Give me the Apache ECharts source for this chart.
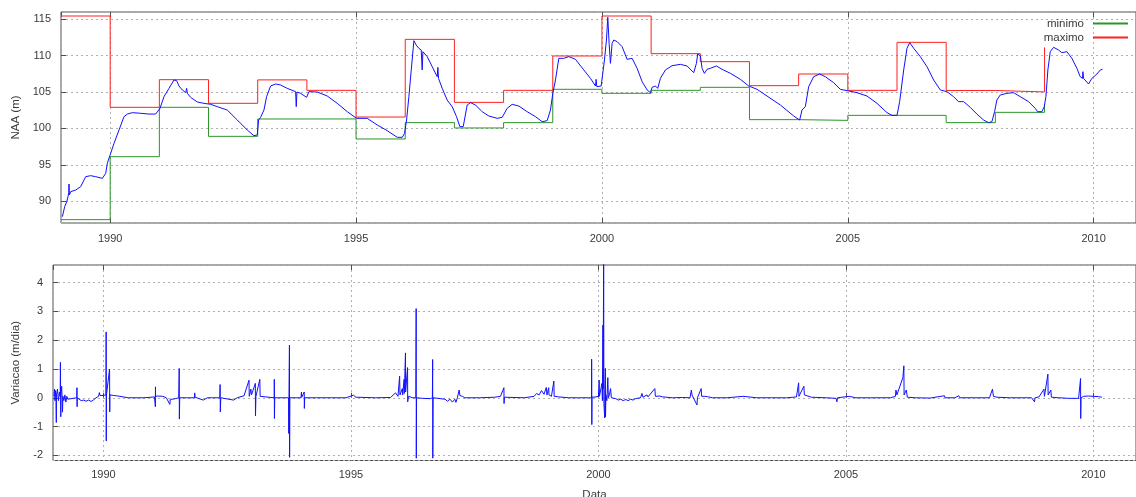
<!DOCTYPE html>
<html>
<head>
<meta charset="utf-8">
<script src="https://cdn.jsdelivr.net/npm/echarts@6/dist/echarts.min.js"></script>
<style>
  html, body { margin: 0; padding: 0; background: #ffffff; }
  #chart { width: 1136px; height: 497px; }
</style>
</head>
<body>
<div id="chart"></div>
<script>
// Nível da água (m) ao longo do tempo: [ano decimal, NAA]
const nivelAgua = [
  [1989.028, 87.90], [1989.075, 89.27], [1989.116, 89.95], [1989.143, 90.64], [1989.157, 91.19],
  [1989.163, 92.38], [1989.170, 90.87], [1989.197, 91.33], [1989.299, 91.55], [1989.400, 92.01],
  [1989.502, 93.38], [1989.604, 93.52], [1989.705, 93.38], [1989.841, 93.15], [1989.909, 93.84],
  [1989.942, 95.21], [1990.010, 96.58], [1990.078, 97.95], [1990.180, 99.78], [1990.281, 101.61],
  [1990.349, 101.97], [1990.451, 102.16], [1990.620, 102.07], [1990.789, 101.97], [1990.925, 101.97],
  [1991.013, 102.75], [1991.094, 104.35], [1991.196, 105.49], [1991.298, 106.64], [1991.352, 106.54],
  [1991.399, 105.81], [1991.467, 105.27], [1991.535, 104.90], [1991.555, 105.49], [1991.569, 104.81],
  [1991.636, 104.26], [1991.772, 103.62], [1991.907, 103.44], [1992.043, 103.30], [1992.178, 102.98],
  [1992.381, 102.52], [1992.585, 101.15], [1992.788, 99.78], [1992.923, 99.00], [1992.991, 99.10],
  [1993.018, 101.15], [1993.059, 101.52], [1993.127, 102.52], [1993.181, 104.35], [1993.262, 105.81],
  [1993.364, 106.09], [1993.466, 105.95], [1993.601, 105.49], [1993.771, 105.04], [1993.784, 102.98],
  [1993.798, 104.99], [1993.872, 104.81], [1993.994, 104.26], [1994.041, 105.04], [1994.211, 104.99],
  [1994.414, 104.44], [1994.617, 103.44], [1994.821, 102.29], [1995.010, 101.38], [1995.024, 101.52],
  [1995.227, 101.38], [1995.431, 100.47], [1995.634, 99.69], [1995.837, 98.78], [1995.939, 98.78],
  [1995.986, 99.32], [1996.027, 101.15], [1996.074, 104.35], [1996.122, 108.01], [1996.176, 112.03],
  [1996.223, 111.43], [1996.278, 110.98], [1996.325, 110.75], [1996.345, 108.01], [1996.359, 110.52],
  [1996.447, 109.84], [1996.549, 108.46], [1996.650, 107.09], [1996.664, 108.37], [1996.677, 106.86],
  [1996.752, 105.49], [1996.853, 103.89], [1996.955, 102.98], [1997.043, 101.61], [1997.111, 100.24],
  [1997.179, 100.24], [1997.260, 103.21], [1997.328, 103.53], [1997.429, 103.21], [1997.564, 102.29],
  [1997.700, 101.70], [1997.869, 101.38], [1997.971, 101.52], [1998.073, 102.75], [1998.174, 103.30],
  [1998.310, 103.07], [1998.479, 102.29], [1998.649, 101.61], [1998.784, 100.92], [1998.886, 101.06],
  [1998.953, 102.52], [1999.001, 104.81], [1999.055, 106.64], [1999.123, 109.61], [1999.224, 109.61],
  [1999.326, 109.84], [1999.462, 109.47], [1999.631, 108.01], [1999.767, 106.86], [1999.869, 105.81],
  [1999.882, 106.73], [1999.896, 105.72], [1999.936, 105.63], [1999.984, 105.81], [2000.051, 109.38],
  [2000.092, 112.12], [2000.119, 115.23], [2000.146, 111.66], [2000.173, 108.92], [2000.207, 111.66],
  [2000.241, 112.12], [2000.309, 111.89], [2000.410, 111.21], [2000.512, 109.47], [2000.614, 109.61],
  [2000.715, 108.24], [2000.817, 106.41], [2000.919, 105.27], [2000.986, 104.90], [2001.020, 105.63],
  [2001.088, 105.81], [2001.135, 105.49], [2001.189, 106.86], [2001.291, 108.01], [2001.426, 108.60],
  [2001.596, 108.78], [2001.731, 108.56], [2001.866, 107.64], [2001.921, 108.92], [2001.948, 110.20],
  [2002.002, 109.93], [2002.036, 108.24], [2002.083, 107.55], [2002.137, 108.10], [2002.205, 108.24],
  [2002.327, 108.56], [2002.442, 108.10], [2002.612, 107.55], [2002.815, 106.73], [2002.985, 105.81],
  [2003.154, 105.36], [2003.357, 104.44], [2003.628, 103.21], [2003.899, 101.70], [2004.021, 101.15],
  [2004.068, 102.52], [2004.136, 102.98], [2004.204, 105.72], [2004.305, 107.09], [2004.427, 107.46],
  [2004.542, 107.09], [2004.712, 106.27], [2004.847, 105.36], [2005.017, 105.13], [2005.187, 104.90],
  [2005.390, 104.44], [2005.593, 103.44], [2005.796, 102.16], [2005.898, 101.79], [2006.000, 101.79],
  [2006.054, 103.67], [2006.136, 108.01], [2006.203, 110.98], [2006.258, 111.76], [2006.339, 110.98],
  [2006.474, 109.84], [2006.610, 108.46], [2006.745, 106.64], [2006.881, 105.27], [2006.914, 105.36],
  [2007.015, 105.04], [2007.150, 104.35], [2007.252, 103.67], [2007.354, 103.67], [2007.489, 102.89],
  [2007.625, 101.97], [2007.760, 101.15], [2007.862, 100.79], [2007.930, 100.92], [2007.984, 102.29],
  [2008.031, 103.89], [2008.099, 104.58], [2008.235, 104.81], [2008.370, 104.90], [2008.506, 104.35],
  [2008.675, 103.67], [2008.811, 102.75], [2008.858, 102.29], [2008.946, 102.29], [2008.994, 102.98],
  [2009.028, 104.35], [2009.068, 108.01], [2009.116, 110.52], [2009.184, 111.12], [2009.285, 110.75],
  [2009.353, 110.38], [2009.455, 110.52], [2009.556, 109.61], [2009.658, 108.24], [2009.726, 107.09],
  [2009.773, 106.86], [2009.780, 107.78], [2009.794, 106.86], [2009.827, 106.64], [2009.895, 106.09],
  [2009.963, 106.86], [2010.065, 107.46], [2010.133, 108.01], [2010.180, 108.10]
];

// Mínimo e máximo anuais (início de cada ano)
const anos = [1989, 1990, 1991, 1992, 1993, 1994, 1995, 1996, 1997, 1998, 1999,
              2000, 2001, 2002, 2003, 2004, 2005, 2006, 2007, 2008, 2009];
const minimo = [87.49, 96.12, 102.89, 98.91, 101.29, 101.30, 98.55, 100.79, 100.06, 100.79, 105.36,
                104.81, 105.22, 105.63, 101.20, 101.10, 101.79, 101.79, 100.79, 102.20, 103.35];
const maximo = [115.41, 102.89, 106.68, 103.44, 106.65, 105.22, 101.56, 112.21, 103.57, 105.22, 109.93,
                115.41, 110.25, 109.15, 105.86, 107.46, 105.22, 111.80, 105.20, 105.00, 111.10];

// Variação diária do nível (m/dia): [ano decimal, variação]
const variacao = [
  [1989.000, 0.05], [1989.010, 0.30], [1989.020, -0.10], [1989.030, 0.25], [1989.040, 0.00],
  [1989.047, -0.86], [1989.050, 0.10], [1989.070, 0.30], [1989.090, -0.10], [1989.110, 0.20],
  [1989.125, 0.05], [1989.130, 1.23], [1989.133, 0.38], [1989.137, -0.66], [1989.140, 0.10],
  [1989.155, 0.40], [1989.165, -0.05], [1989.172, -0.50], [1989.180, 0.05], [1989.200, -0.10],
  [1989.220, 0.10], [1989.240, -0.15], [1989.260, 0.05], [1989.280, -0.05], [1989.460, 0.00],
  [1989.464, 0.35], [1989.467, -0.31], [1989.470, 0.00], [1989.500, -0.05], [1989.550, -0.10],
  [1989.600, -0.08], [1989.650, -0.12], [1989.700, -0.08], [1989.750, -0.13], [1989.800, -0.07],
  [1989.850, 0.00], [1989.900, 0.05], [1989.917, 0.18], [1989.930, 0.08], [1989.960, 0.05],
  [1989.990, 0.08], [1990.050, 0.10], [1990.054, 2.29], [1990.056, -1.50], [1990.060, 0.10],
  [1990.100, 0.08], [1990.123, 1.00], [1990.126, -0.49], [1990.130, 0.10], [1990.160, 0.10],
  [1990.200, 0.08], [1990.260, 0.07], [1990.300, 0.02], [1990.500, 0.00], [1990.800, 0.00],
  [1990.900, 0.01], [1990.940, 0.05], [1991.030, 0.03], [1991.048, -0.31], [1991.050, 0.38],
  [1991.053, 0.05], [1991.100, 0.06], [1991.200, 0.05], [1991.270, 0.00], [1991.340, -0.23],
  [1991.350, -0.05], [1991.400, -0.05], [1991.450, -0.03], [1991.520, 0.00], [1991.530, 1.02],
  [1991.533, -0.74], [1991.540, 0.00], [1991.700, 0.00], [1991.840, 0.00], [1991.843, 0.17],
  [1991.850, 0.02], [1992.017, -0.08], [1992.100, 0.00], [1992.200, 0.00], [1992.350, 0.00],
  [1992.356, 0.46], [1992.360, -0.49], [1992.370, 0.00], [1992.630, -0.08], [1992.700, 0.00],
  [1992.840, 0.07], [1992.940, 0.61], [1992.945, 0.05], [1992.978, 0.30], [1992.990, 0.10],
  [1993.068, 0.50], [1993.071, -0.63], [1993.080, 0.05], [1993.158, 0.64], [1993.165, 0.05],
  [1993.200, 0.03], [1993.450, 0.00], [1993.451, 0.64], [1993.454, -0.72], [1993.460, 0.00],
  [1993.740, 0.00], [1993.743, -1.24], [1993.747, 0.00], [1993.757, 1.83], [1993.760, -2.07],
  [1993.765, 0.00], [1993.990, 0.00], [1994.000, 0.20], [1994.005, 0.02], [1994.056, 0.20],
  [1994.058, -0.37], [1994.065, 0.00], [1994.300, 0.00], [1994.600, 0.00], [1994.900, 0.00],
  [1995.050, 0.09], [1995.100, 0.02], [1995.500, 0.00], [1995.800, 0.01], [1995.900, 0.17],
  [1995.950, 0.05], [1995.983, 0.75], [1995.990, 0.10], [1996.038, 0.32], [1996.045, 0.10],
  [1996.073, 0.64], [1996.078, 0.15], [1996.101, 1.56], [1996.104, 0.20], [1996.143, 1.05],
  [1996.146, -0.14], [1996.160, 0.05], [1996.200, 0.04], [1996.250, 0.00], [1996.310, 0.00],
  [1996.317, 3.10], [1996.320, -2.10], [1996.325, 0.00], [1996.450, -0.02], [1996.600, -0.03],
  [1996.645, 0.00], [1996.650, 1.33], [1996.653, -2.10], [1996.660, 0.00], [1996.900, -0.05],
  [1996.950, -0.12], [1997.000, -0.05], [1997.050, -0.15], [1997.100, -0.05], [1997.120, -0.16],
  [1997.150, 0.00], [1997.186, 0.27], [1997.200, 0.08], [1997.250, 0.05], [1997.300, 0.00],
  [1997.600, 0.00], [1997.900, 0.02], [1998.020, 0.05], [1998.050, 0.05], [1998.090, 0.35],
  [1998.093, -0.20], [1998.100, 0.02], [1998.500, 0.00], [1998.700, 0.05], [1998.750, 0.15],
  [1998.800, 0.10], [1998.850, 0.25], [1998.900, 0.12], [1998.946, 0.36], [1998.960, 0.10],
  [1998.995, 0.35], [1999.000, 0.10], [1999.050, 0.05], [1999.099, 0.58], [1999.105, 0.05],
  [1999.200, 0.03], [1999.400, 0.00], [1999.600, 0.00], [1999.800, 0.00], [1999.860, 0.00],
  [1999.862, 1.34], [1999.864, 0.65], [1999.866, -0.93], [1999.870, 0.02], [1999.950, 0.03],
  [2000.000, 0.05], [2000.014, 0.61], [2000.020, 0.05], [2000.050, 0.10], [2000.070, 0.50],
  [2000.080, -0.10], [2000.091, 2.53], [2000.095, 0.30], [2000.105, 5.00], [2000.110, -0.20],
  [2000.126, -0.70], [2000.130, 0.20], [2000.140, 1.02], [2000.143, -0.66], [2000.150, 0.10],
  [2000.170, -0.10], [2000.189, 0.70], [2000.200, 0.00], [2000.220, 0.10], [2000.245, 0.32],
  [2000.260, 0.00], [2000.300, -0.05], [2000.350, -0.03], [2000.400, -0.08], [2000.450, -0.05],
  [2000.500, -0.10], [2000.550, -0.06], [2000.600, -0.10], [2000.650, -0.05], [2000.700, -0.08],
  [2000.750, -0.03], [2000.850, 0.00], [2000.879, 0.15], [2000.900, 0.02], [2000.980, 0.10],
  [2001.000, 0.03], [2001.139, 0.32], [2001.150, 0.05], [2001.230, 0.06], [2001.300, 0.03],
  [2001.500, 0.00], [2001.700, 0.01], [2001.850, 0.00], [2001.877, 0.27], [2001.890, 0.10],
  [2001.990, -0.25], [2002.000, 0.00], [2002.075, 0.32], [2002.085, 0.05], [2002.150, 0.05],
  [2002.200, 0.04], [2002.300, 0.00], [2002.600, 0.00], [2002.920, 0.05], [2002.950, 0.01],
  [2003.200, 0.00], [2003.500, 0.00], [2003.800, 0.00], [2004.000, 0.03], [2004.044, 0.52],
  [2004.050, 0.05], [2004.150, 0.40], [2004.160, 0.10], [2004.200, 0.05], [2004.300, 0.02],
  [2004.600, 0.00], [2004.800, -0.02], [2004.817, -0.14], [2004.830, 0.00], [2005.064, 0.05],
  [2005.200, 0.00], [2005.500, 0.00], [2005.900, 0.00], [2006.000, 0.05], [2006.010, 0.27],
  [2006.030, 0.10], [2006.050, 0.20], [2006.150, 0.70], [2006.170, 1.11], [2006.175, 0.10],
  [2006.220, 0.27], [2006.240, 0.02], [2006.400, 0.00], [2006.700, -0.01], [2006.990, 0.07],
  [2007.000, 0.00], [2007.200, 0.00], [2007.280, 0.07], [2007.300, 0.00], [2007.600, 0.00],
  [2007.900, 0.00], [2007.960, 0.30], [2007.980, 0.05], [2008.000, 0.10], [2008.050, 0.02],
  [2008.300, 0.00], [2008.600, 0.00], [2008.750, 0.00], [2008.810, -0.14], [2008.820, 0.00],
  [2008.900, 0.03], [2009.000, 0.30], [2009.010, 0.05], [2009.080, 0.82], [2009.085, 0.10],
  [2009.140, 0.27], [2009.150, 0.02], [2009.300, 0.00], [2009.500, -0.02], [2009.700, -0.02],
  [2009.735, 0.00], [2009.740, 0.67], [2009.743, -0.72], [2009.750, 0.00], [2009.800, 0.05],
  [2009.900, 0.06], [2010.000, 0.05], [2010.100, 0.04], [2010.170, 0.02]
];

const FONT = 'Liberation Sans, Arial, sans-serif';
const TEXT_COLOR = '#3a3a3a';
const AXIS_COLOR = '#505050';
const GRID_LINE = { type: [2, 3], color: '#b0b0b0', width: 1 };
const GREEN = '#2a962a';
const RED = '#ff2020';
const BLUE = '#1010ff';

function yearLabel(v) { return String(Math.round(v)); }

function bottomAxis(gridIndex, min, max, margin, extra) {
  return Object.assign({
    gridIndex, type: 'value', position: 'bottom', min, max, splitNumber: 5,
    axisLine: { show: false },
    axisTick: { show: true, inside: true, length: 5, lineStyle: { color: AXIS_COLOR } },
    axisLabel: { showMinLabel: false, showMaxLabel: false, formatter: yearLabel,
                 color: TEXT_COLOR, fontFamily: FONT, fontSize: 11, margin },
    splitLine: { show: true, lineStyle: GRID_LINE }
  }, extra || {});
}
function topAxis(gridIndex, min, max) {
  return {
    gridIndex, type: 'value', position: 'top', min, max, splitNumber: 5,
    axisLine: { show: false },
    axisTick: { show: true, inside: true, length: 5, lineStyle: { color: AXIS_COLOR } },
    axisLabel: { show: false }, splitLine: { show: false }
  };
}
function leftAxis(gridIndex, min, max, splitNumber, name, nameGap) {
  return {
    gridIndex, type: 'value', min, max, splitNumber,
    name, nameLocation: 'middle', nameGap,
    nameTextStyle: { color: TEXT_COLOR, fontFamily: FONT, fontSize: 11.5 },
    axisLine: { show: false },
    axisTick: { show: true, inside: true, length: 5, lineStyle: { color: AXIS_COLOR } },
    axisLabel: { showMinLabel: false, showMaxLabel: false, formatter: v => String(Math.round(v)),
                 color: TEXT_COLOR, fontFamily: FONT, fontSize: 11, margin: 10 },
    splitLine: { show: true, lineStyle: GRID_LINE }
  };
}

const chart = echarts.init(document.getElementById('chart'), null, { renderer: 'canvas' });

chart.setOption({
  backgroundColor: '#ffffff',
  animation: false,
  grid: [
    { left: 61, top: 12, width: 1075, height: 211, outerBoundsMode: 'none', containLabel: false,
      show: true, borderColor: AXIS_COLOR, borderWidth: 1, backgroundColor: 'transparent' },
    { left: 53, top: 265, width: 1083, height: 195.5, outerBoundsMode: 'none', containLabel: false,
      show: true, borderColor: AXIS_COLOR, borderWidth: 1, backgroundColor: 'transparent' }
  ],
  legend: {
    data: ['minimo', 'maximo'],
    orient: 'vertical', align: 'right', right: 7, top: 17, padding: 0,
    itemWidth: 35, itemHeight: 0, itemGap: 1,
    textStyle: { color: TEXT_COLOR, fontFamily: FONT, fontSize: 11.5, lineHeight: 13, padding: [0, 4, 0, 0] }
  },
  xAxis: [
    bottomAxis(0, 1989.0, 2010.86, 10),
    topAxis(0, 1989.0, 2010.86),
    bottomAxis(1, 1988.98, 2010.86, 9, { name: 'Data', nameLocation: 'middle', nameGap: 28,
      nameTextStyle: { color: TEXT_COLOR, fontFamily: FONT, fontSize: 11.5 } }),
    topAxis(1, 1988.98, 2010.86)
  ],
  yAxis: [
    leftAxis(0, 87.03, 115.96, 6, 'NAA (m)', 33),
    leftAxis(1, -2.18, 4.615, 7, 'Variacao (m/dia)', 26)
  ],
  series: [
    { name: 'NAA', type: 'line', xAxisIndex: 0, yAxisIndex: 0, data: nivelAgua,
      symbol: 'none', lineStyle: { color: BLUE, width: 1 }, itemStyle: { color: BLUE }, z: 3 },
    { name: 'minimo', type: 'line', step: 'end', xAxisIndex: 0, yAxisIndex: 0,
      data: anos.map((a, i) => [a, minimo[i]]),
      symbol: 'none', lineStyle: { color: GREEN, width: 1 }, itemStyle: { color: GREEN }, z: 2 },
    { name: 'maximo', type: 'line', step: 'end', xAxisIndex: 0, yAxisIndex: 0,
      data: anos.map((a, i) => [a, maximo[i]]),
      symbol: 'none', lineStyle: { color: RED, width: 1 }, itemStyle: { color: RED }, z: 2 },
    { name: 'Variacao', type: 'line', xAxisIndex: 2, yAxisIndex: 1, data: variacao,
      symbol: 'none', lineStyle: { color: BLUE, width: 1 }, itemStyle: { color: BLUE }, z: 3 }
  ]
});
</script>
</body>
</html>
